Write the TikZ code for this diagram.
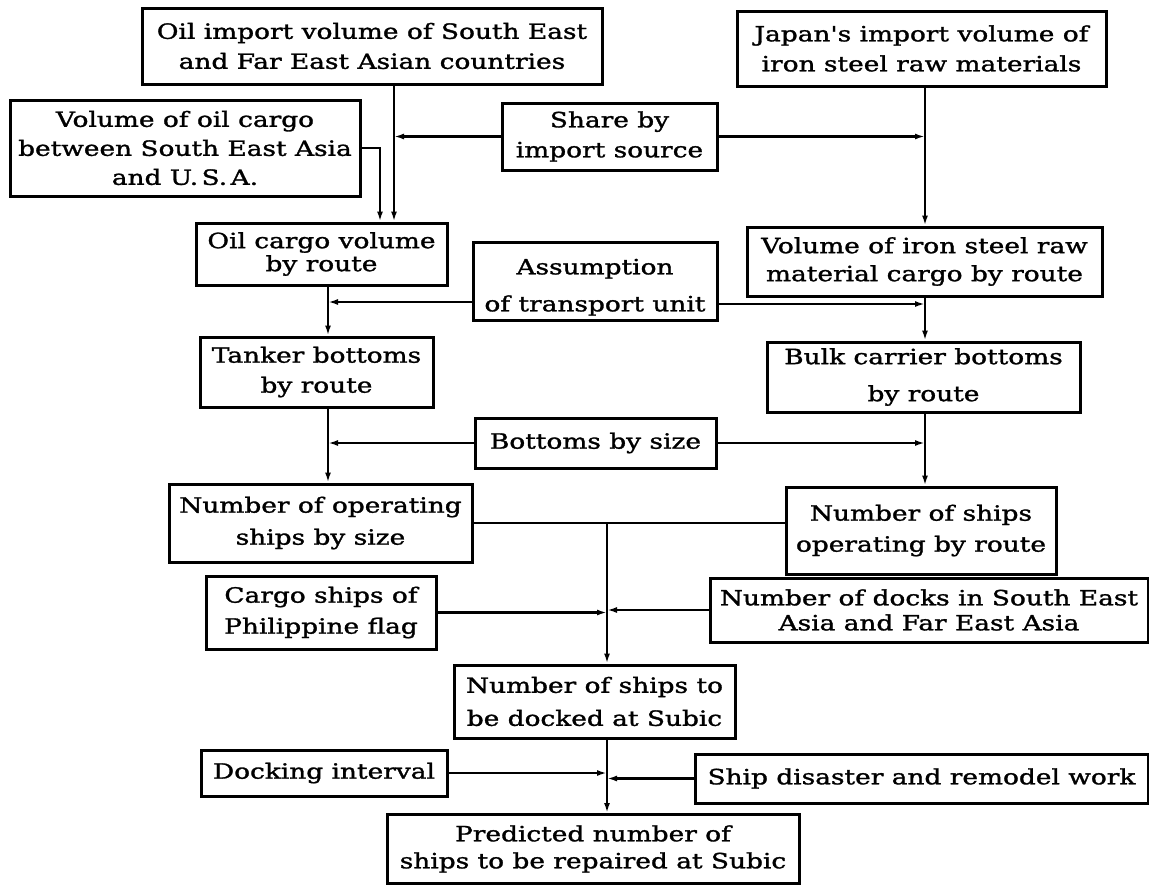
\documentclass[tikz,border=0pt]{standalone}
\usepackage{fontspec}
\setmainfont{DejaVu Serif}[FakeStretch=1.257, FakeBold=1.4, Ligatures=TeXOff]
\usetikzlibrary{arrows.meta}
\tikzset{
  box/.style={draw, line width=3pt, inner sep=0pt, align=center,
    font=\fontsize{21}{30}\selectfont},
  arr/.style={line width=2.4pt, -{Latex[length=10pt,width=6pt]}},
  ln/.style={line width=2.4pt}
}
\begin{document}
\begin{tikzpicture}[x=1pt,y=-1pt]
\useasboundingbox[fill=white] (0,0) rectangle (1149,886);
% trunk line positions
\coordinate (lA) at (394,0);
\coordinate (lC) at (380,0);
\coordinate (lB) at (925,0);
\coordinate (lL) at (328,0);
\coordinate (lM) at (607,0);
% boxes
\node[box, minimum width=460pt, minimum height=76pt] (A) at (372,46)
  {Oil import volume of South East\\and Far East Asian countries};
\node[box, minimum width=369pt, minimum height=75pt] (B) at (921.5,48.5)
  {Japan's import volume of\\iron steel raw materials};
\node[box, minimum width=350pt, minimum height=96pt] (C) at (185,148)
  {Volume of oil cargo\\[-1pt]between South East Asia\\[-1pt]and U.\,S.\,A.};
\node[box, minimum width=215pt, minimum height=67pt] (D) at (609.5,136.5)
  {Share by\\import source};
\node[box, minimum width=251pt, minimum height=62pt] (E) at (321.5,254)
  {Oil cargo volume\\[-7pt]by route};
\node[box, minimum width=355pt, minimum height=69pt] (F) at (924.5,261.5)
  {Volume of iron steel raw\\[-2pt]material cargo by route};
\node[box, minimum width=244pt, minimum height=78pt] (G) at (595,281)
  {\rule{0pt}{28pt}Assumption\\[7pt]of transport unit};
\node[box, minimum width=233pt, minimum height=70pt] (H) at (316.5,372)
  {Tanker bottoms\\by route};
\node[box, minimum width=313pt, minimum height=70pt] (I) at (923.5,377)
  {Bulk carrier bottoms\\[7pt]by route};
\node[box, minimum width=241pt, minimum height=50pt] (J) at (595.5,443)
  {Bottoms by size};
\node[box, minimum width=303pt, minimum height=78pt] (K) at (320.5,523)
  {Number of operating\\[2pt]ships by size};
\node[box, minimum width=270pt, minimum height=87pt] (L) at (921,530.5)
  {Number of ships\\[1pt]operating by route};
\node[box, minimum width=230pt, minimum height=73pt] (M) at (321,612.5)
  {Cargo ships of\\[1pt]Philippine flag};
\node[box, minimum width=438pt, minimum height=64pt] (N) at (929,610)
  {Number of docks in South East\\[-5pt]Asia and Far East Asia};
\node[box, minimum width=281pt, minimum height=73pt] (O) at (594.5,701.5)
  {Number of ships to\\[3pt]be docked at Subic};
\node[box, minimum width=246pt, minimum height=46pt] (Q) at (324,773)
  {Docking interval};
\node[box, minimum width=453pt, minimum height=49pt] (R) at (921.5,778.5)
  {Ship disaster and remodel work};
\node[box, minimum width=412pt, minimum height=69pt] (P) at (593,849)
  {Predicted number of\\[-3pt]ships to be repaired at Subic};
% connectors
\draw[arr] (A.south -| lA) -- (E.north -| lA);
\draw[arr] (C.east) -| (E.north -| lC);
\draw[arr] (D.west) -- (D.west -| lA);
\draw[arr] (D.east) -- (D.east -| lB);
\draw[arr] (B.south -| lB) -- (F.north -| lB);
\draw[arr] (E.south -| lL) -- (H.north -| lL);
\draw[arr] ([yshift=-21pt]G.west) -- ([yshift=-21pt]G.west -| lL);
\draw[arr] ([yshift=-23pt]G.east) -- ([yshift=-23pt]G.east -| lB);
\draw[arr] (F.south -| lB) -- (I.north -| lB);
\draw[arr] (H.south -| lL) -- (K.north -| lL);
\draw[arr] (J.west) -- (J.west -| lL);
\draw[arr] (J.east) -- (J.east -| lB);
\draw[arr] (I.south -| lB) -- (L.north -| lB);
\draw[ln] (K.east) -- (K.east -| L.west);
\draw[arr] (K.east -| lM) -- (O.north -| lM);
\draw[arr] (M.east) -- (M.east -| lM);
\draw[arr] (N.west) -- (N.west -| lM);
\draw[arr] (O.south -| lM) -- (P.north -| lM);
\draw[arr] (Q.east) -- (Q.east -| lM);
\draw[arr] (R.west) -- (R.west -| lM);
\end{tikzpicture}
\end{document}
